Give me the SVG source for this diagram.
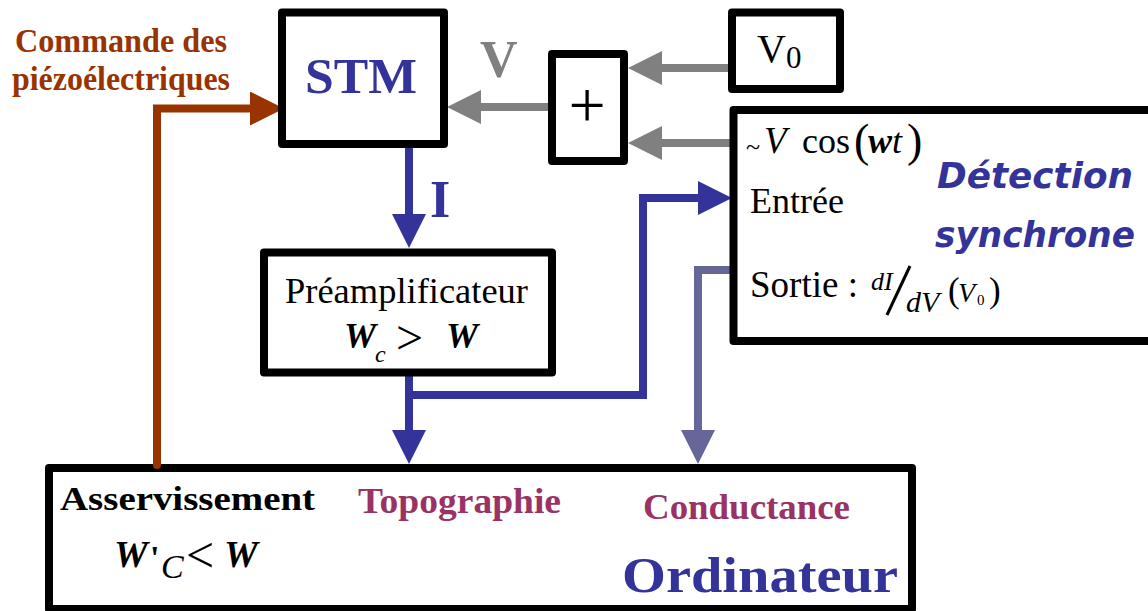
<svg xmlns="http://www.w3.org/2000/svg" width="1148" height="611" viewBox="0 0 1148 611">
<style>
.box{fill:#fff;stroke:#000;stroke-width:8;stroke-linejoin:round}
text{font-family:"Liberation Serif","Times New Roman",serif}
.b{font-weight:bold}
.i{font-style:italic}
.bi{font-weight:bold;font-style:italic}
.sans{font-family:"DejaVu Sans",sans-serif;font-weight:bold;font-style:italic;fill:#333399}
.c{fill:none;stroke-width:8;stroke-linecap:round;stroke-linejoin:miter}
</style>
<defs>
<marker id="aBlue" markerUnits="userSpaceOnUse" markerWidth="34" markerHeight="34" refX="10" refY="17" orient="auto"><path d="M0,0 L34,17 L0,34 Z" fill="#333399"/></marker>
<marker id="aGray" markerUnits="userSpaceOnUse" markerWidth="34" markerHeight="34" refX="10" refY="17" orient="auto"><path d="M0,0 L34,17 L0,34 Z" fill="#808080"/></marker>
<marker id="aBrown" markerUnits="userSpaceOnUse" markerWidth="34" markerHeight="34" refX="10" refY="17" orient="auto"><path d="M0,0 L34,17 L0,34 Z" fill="#993300"/></marker>
<marker id="aPurple" markerUnits="userSpaceOnUse" markerWidth="34" markerHeight="34" refX="10" refY="17" orient="auto"><path d="M0,0 L34,17 L0,34 Z" fill="#666699"/></marker>
</defs>
<rect width="1148" height="611" fill="#fff"/>

<g id="ordinateur">
<rect class="box" x="49" y="468" width="863" height="141"/>
<text class="b" x="60" y="510" font-size="34" textLength="255" lengthAdjust="spacingAndGlyphs" fill="#000">Asservissement</text>
<text class="bi" x="114" y="567" font-size="38" fill="#000">W</text>
<text class="b" x="150" y="569" font-size="34" fill="#000">'</text>
<text class="i" x="161" y="578" font-size="34" fill="#000">C</text>
<text x="186" y="572" font-size="50" fill="#000">&lt;</text>
<text class="bi" x="224" y="567" font-size="38" fill="#000">W</text>
<text class="b" x="358" y="513" font-size="36" textLength="203" lengthAdjust="spacingAndGlyphs" fill="#993366">Topographie</text>
<text class="b" x="643" y="519" font-size="36" textLength="207" lengthAdjust="spacingAndGlyphs" fill="#993366">Conductance</text>
<text class="b" x="622" y="592" font-size="50" textLength="276" lengthAdjust="spacingAndGlyphs" fill="#333399">Ordinateur</text>
</g>

<g id="connectors">
<polyline class="c" stroke="#993300" points="157,465 157,108.5 260,108.5" marker-end="url(#aBrown)"/>
<line class="c" stroke="#808080" x1="552" y1="107" x2="471" y2="107" marker-end="url(#aGray)"/>
<line class="c" stroke="#808080" x1="732" y1="68" x2="652" y2="68" marker-end="url(#aGray)"/>
<line class="c" stroke="#808080" x1="732" y1="143" x2="652" y2="143" marker-end="url(#aGray)"/>
<line class="c" stroke="#333399" x1="409" y1="146" x2="409" y2="224" marker-end="url(#aBlue)"/>
<line class="c" stroke="#333399" x1="409" y1="374" x2="409" y2="440" marker-end="url(#aBlue)"/>
<polyline class="c" stroke="#333399" points="409,395 643,395 643,198 708,198" marker-end="url(#aBlue)"/>
<polyline class="c" stroke="#666699" points="734,270 698,270 698,440" marker-end="url(#aPurple)"/>
<text class="b" x="430" y="217" font-size="52" fill="#333399">I</text>
<text class="b" x="480" y="77" font-size="52" fill="#808080">V</text>
</g>

<g id="commande">
<text class="b" x="15" y="52" font-size="33" textLength="212" lengthAdjust="spacingAndGlyphs" fill="#993300">Commande des</text>
<text class="b" x="12" y="90" font-size="33" textLength="218" lengthAdjust="spacingAndGlyphs" fill="#993300">piézoélectriques</text>
</g>

<g id="stm">
<rect class="box" x="282" y="12.5" width="162" height="131.5"/>
<text class="b" x="305" y="93" font-size="50" textLength="112" lengthAdjust="spacingAndGlyphs" fill="#333399">STM</text>
</g>

<g id="plus">
<rect class="box" x="552" y="54" width="72" height="107"/>
<text x="587" y="127" font-size="66" fill="#000" text-anchor="middle">+</text>
</g>

<g id="v0">
<rect class="box" x="732" y="12.5" width="108" height="76.5"/>
<text x="757" y="62" font-size="40" fill="#000">V</text>
<text x="786" y="68" font-size="31" fill="#000">0</text>
</g>

<g id="detection">
<rect class="box" x="733.5" y="110" width="430" height="231"/>
<text x="746" y="155" font-size="26" fill="#000">~</text>
<text class="i" x="764" y="153" font-size="37" fill="#000">V</text>
<text x="802" y="153" font-size="36" fill="#000">cos</text>
<text x="854" y="156" font-size="46" fill="#000">(</text>
<text class="bi" x="868" y="153" font-size="36" fill="#000">w</text>
<text class="i" x="892" y="153" font-size="36" fill="#000">t</text>
<text x="907" y="156" font-size="46" fill="#000">)</text>
<text class="sans" x="937" y="188" font-size="36" textLength="196" lengthAdjust="spacingAndGlyphs">Détection</text>
<text class="sans" x="935" y="247" font-size="35" textLength="200" lengthAdjust="spacingAndGlyphs">synchrone</text>
<text x="750" y="213" font-size="36" fill="#000">Entrée</text>
<text x="750" y="297" font-size="37" fill="#000">Sortie :</text>
<text class="i" x="871" y="290" font-size="26" fill="#000">dI</text>
<line x1="910" y1="266" x2="887" y2="315" stroke="#000" stroke-width="3"/>
<text class="i" x="906" y="312" font-size="30" fill="#000">dV</text>
<text x="948" y="302" font-size="35" fill="#000">(</text>
<text class="i" x="958" y="302" font-size="28" fill="#000">V</text>
<text x="977" y="305" font-size="15" fill="#000">0</text>
<text x="989" y="302" font-size="35" fill="#000">)</text>
</g>

<g id="preamp">
<rect class="box" x="264" y="252.5" width="288" height="120"/>
<text x="285" y="303" font-size="36" textLength="243" lengthAdjust="spacingAndGlyphs" fill="#000">Préamplificateur</text>
<text class="bi" x="344" y="348" font-size="36" fill="#000">W</text>
<text class="i" x="375" y="362" font-size="24" fill="#000">c</text>
<text x="396" y="354" font-size="48" fill="#000">&gt;</text>
<text class="bi" x="446" y="348" font-size="36" fill="#000">W</text>
</g>
</svg>
